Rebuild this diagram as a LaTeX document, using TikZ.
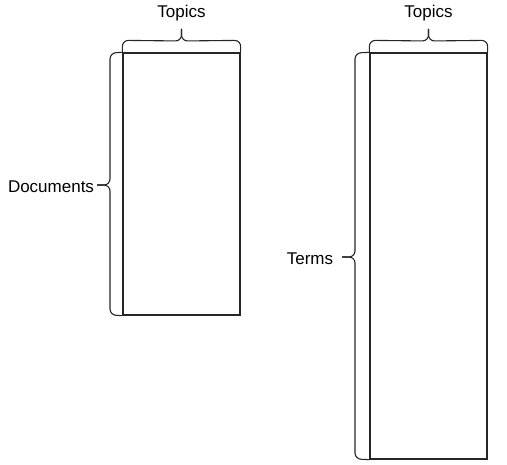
\documentclass[tikz,border=0pt]{standalone}
\usepackage{fontspec}
\setmainfont{Liberation Sans}
\begin{document}
\begin{tikzpicture}[x=1pt,y=-1pt,
  matbox/.style={draw=black!85, line width=1.3pt, inner sep=0pt},
  bracepath/.style={draw=black!85, line width=1.1pt, rounded corners=6pt},
  lbl/.style={font=\fontsize{17}{20}\selectfont, inner sep=0pt, anchor=center}]
  \useasboundingbox (0,0) rectangle (507,465);

  % matrices
  \node[matbox, minimum width=117pt, minimum height=262pt] (docmat) at (181.5,184) {};
  \node[matbox, minimum width=117pt, minimum height=406pt] (termmat) at (428.5,256) {};

  % labels
  \node[lbl] (topA) at (181.5,13) {Topics};
  \node[lbl] (topB) at (428.5,13) {Topics};
  \node[lbl] (docs) at (51,187) {Documents};
  \node[lbl] (terms) at (310,258.5) {Terms};

  % brace over the document-topic matrix
  \draw[bracepath] (docmat.north west) -- ++(0,-12) -- (181.5,41) -- (181.5,29);
  \draw[bracepath] (docmat.north east) -- ++(0,-12) -- (181.5,41) -- (181.5,29);
  % brace beside the document-topic matrix
  \draw[bracepath] (docmat.north west) -- (110,53) -- (110,185) -- (97,185);
  \draw[bracepath] (docmat.south west) -- (110,315) -- (110,185) -- (97,185);

  % brace over the term-topic matrix
  \draw[bracepath] (termmat.north west) -- ++(0,-12) -- (428.5,41) -- (428.5,29);
  \draw[bracepath] (termmat.north east) -- ++(0,-12) -- (428.5,41) -- (428.5,29);
  % brace beside the term-topic matrix
  \draw[bracepath] (termmat.north west) -- (355,53) -- (355,257) -- (342,257);
  \draw[bracepath] (termmat.south west) -- (355,459) -- (355,257) -- (342,257);
\end{tikzpicture}
\end{document}
